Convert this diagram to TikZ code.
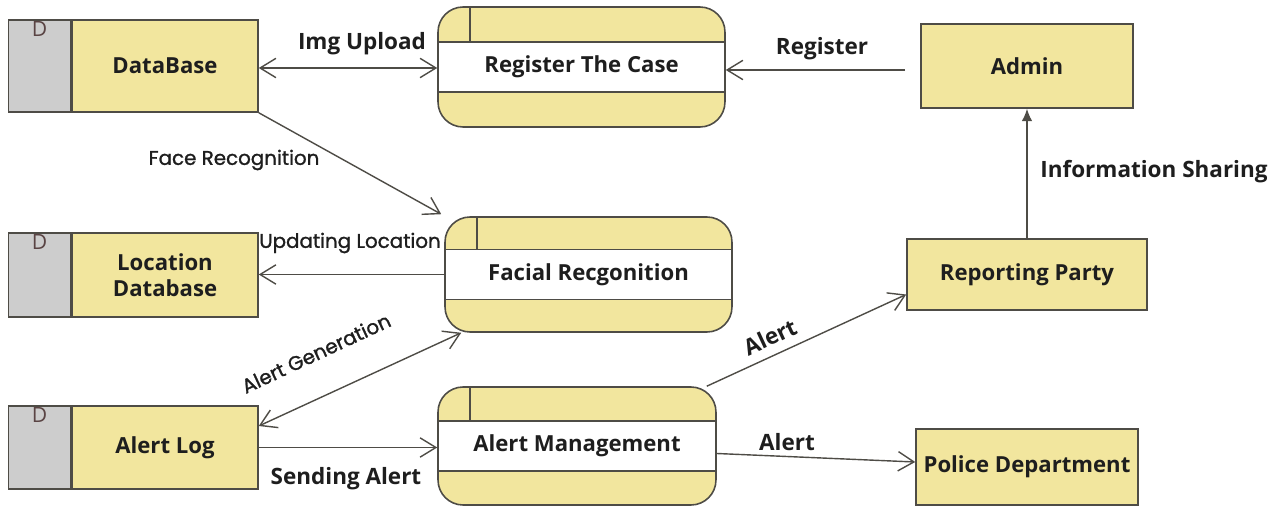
\documentclass[tikz,border=0pt]{standalone}
\usepackage{fontspec}
\setmainfont{Open Sans}
\newfontfamily\roundfont{Poppins}[FakeBold=1.2]
\usetikzlibrary{arrows.meta}

\definecolor{boxfill}{RGB}{242,230,158}
\definecolor{storegrey}{RGB}{205,205,205}
\definecolor{edge}{RGB}{78,76,70}
\definecolor{ink}{RGB}{30,30,30}
\definecolor{dink}{RGB}{90,68,68}

\tikzset{
  entity/.style={draw=edge, line width=0.9pt, fill=boxfill, text=ink,
    font=\bfseries\fontsize{12.6}{15}\selectfont, align=center},
  store/.style={entity, minimum width=3.72cm},
  tab/.style={draw=edge, line width=0.9pt, fill=storegrey, minimum width=1.24cm},
  dmark/.style={text=dink, font=\fontsize{12}{14}\selectfont, inner sep=1pt},
  proc/.style={entity, rounded corners=0.5cm,
    path picture={
      \fill[white, sharp corners] ([yshift=0.5cm]path picture bounding box.west)
        rectangle ([yshift=-0.5cm]path picture bounding box.east);
      \draw[edge, line width=0.9pt, sharp corners]
        ([yshift=0.5cm]path picture bounding box.west) -- ([yshift=0.5cm]path picture bounding box.east)
        ([yshift=-0.5cm]path picture bounding box.west) -- ([yshift=-0.5cm]path picture bounding box.east)
        ([xshift=0.64cm]path picture bounding box.north west) -- ([xshift=0.64cm,yshift=0.5cm]path picture bounding box.west);
    }},
  flow/.style={draw=edge, line width=0.8pt, >={Straight Barb[length=9pt,width=11pt]}},
  lbl/.style={text=ink, font=\bfseries\fontsize{12.8}{15}\selectfont, inner sep=1pt},
  rlbl/.style={text=ink, font=\roundfont\fontsize{11.3}{13}\selectfont, inner sep=1pt}
}

\begin{document}
\begin{tikzpicture}[x=0.02cm, y=-0.02cm]
\useasboundingbox (0,0) rectangle (1285,506);

% data stores
\node[store, minimum height=1.84cm] (db) at (165,66) {DataBase};
\node[tab, minimum height=1.84cm, anchor=north east] (dbtab) at (db.north west) {};
\node[dmark, below] (dbD) at (dbtab.north) {D};

\node[store, minimum height=1.68cm] (loc) at (165,275) {Location\\[0pt]Database};
\node[tab, minimum height=1.68cm, anchor=north east] (loctab) at (loc.north west) {};
\node[dmark, below] (locD) at (loctab.north) {D};

\node[store, minimum height=1.66cm] (al) at (165,447.5) {Alert Log};
\node[tab, minimum height=1.66cm, anchor=north east] (altab) at (al.north west) {};
\node[dmark, below] (alD) at (altab.north) {D};

% processes
\node[proc, minimum width=5.74cm, minimum height=2.4cm] (reg) at (581.5,67) {Register The Case};
\node[proc, minimum width=5.74cm, minimum height=2.3cm] (fac) at (588.5,274.5) {Facial Recgonition};
\node[proc, minimum width=5.56cm, minimum height=2.36cm] (am) at (577,446) {Alert Management};

% external entities
\node[entity, minimum width=4.24cm, minimum height=1.68cm] (adm) at (1027,66) {Admin};
\node[entity, minimum width=4.8cm, minimum height=1.42cm] (rp) at (1027,274.5) {Reporting Party};
\node[entity, minimum width=4.44cm, minimum height=1.52cm] (pd) at (1027,467) {Police Department};

% flows
\draw[flow, <->] ([yshift=-0.04cm]db.east) -- ([yshift=-0.04cm]db.east -| reg.west);
\draw[flow, ->] ([xshift=-0.3cm,yshift=-0.08cm]adm.west) -- ([yshift=-0.08cm]adm.west -| reg.east);
\draw[flow, ->] (db.south east) -- ([xshift=-0.06cm,yshift=0.04cm]fac.north west);
\draw[flow, ->] (fac.west) -- (fac.west -| loc.east);
\draw[flow, <->] ([yshift=0.43cm]al.east) -- ([xshift=0.34cm]fac.south west);
\draw[flow, ->] (al.east) -- (al.east -| am.west);
\draw[flow, ->] ([xshift=-0.2cm]am.north east) -- ([yshift=-0.4cm]rp.west);
\draw[flow, ->] ([yshift=-0.15cm]am.east) -- ([yshift=0.1cm]pd.west);
\draw[flow, -{Latex[length=7pt,width=6pt]}] (rp.north) -- (adm.south);

% flow labels
\node[lbl] (imglbl) at (362,44) {Img Upload};
\node[lbl] (reglbl) at (822,49) {Register};
\node[rlbl] (facelbl) at (234,160) {Face Recognition};
\node[rlbl] (updlbl) at (350,243) {Updating Location};
\node[rlbl, rotate=25] (genlbl) at (316,353) {Alert Generation};
\node[lbl] (sendlbl) at (346,479) {Sending Alert};
\node[lbl, rotate=25] (alertup) at (770,337) {Alert};
\node[lbl] (alertdn) at (787,442) {Alert};
\node[lbl] (infolbl) at (1154,172) {Information Sharing};

\end{tikzpicture}
\end{document}
